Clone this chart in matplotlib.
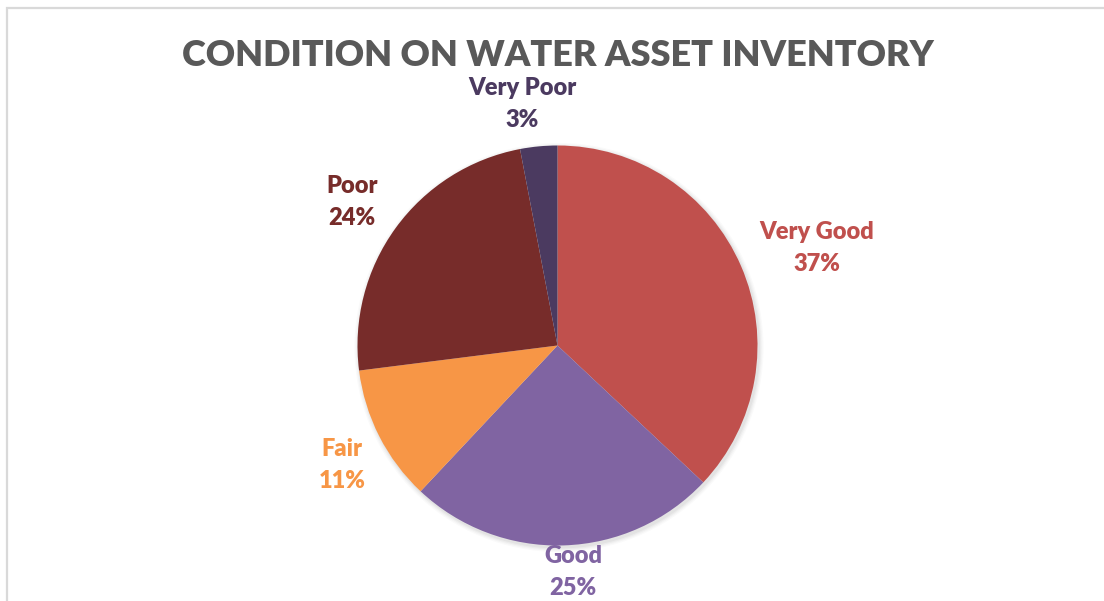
import matplotlib.pyplot as plt
from matplotlib.patches import Rectangle, Circle

# Condition breakdown of the water asset inventory (percent)
conditions = ['Very Good', 'Good', 'Fair', 'Poor', 'Very Poor']
shares = [37, 25, 11, 24, 3]
colors = ['#C0504D', '#8064A2', '#F79646', '#772C2A', '#4B3A60']

# label anchor points (figure pixels, origin top-left)
label_pos = [(817, 248), (573, 572), (342, 465), (352, 202), (522, 104)]

W, H = 1104, 601
fig = plt.figure(figsize=(W / 100, H / 100), dpi=100)
ax = fig.add_axes([0, 0, 1, 1])

cx, cy, r = 557.5, H - 345.5, 200

# soft drop shadow under the pie
for i, a in enumerate([0.035, 0.03, 0.025, 0.02]):
    ax.add_patch(Circle((cx + 1.5, cy - 2), r + 1 + i * 1.2, color='black',
                        alpha=a, lw=0, zorder=1))

ax.pie(shares, colors=colors, startangle=90, counterclock=False,
       center=(cx, cy), radius=r, frame=True,
       wedgeprops=dict(linewidth=0, zorder=2))
ax.set_xlim(0, W)
ax.set_ylim(0, H)
ax.set_aspect('equal')
ax.axis('off')

for name, val, col, (px, py) in zip(conditions, shares, colors, label_pos):
    ax.text(px, H - py, f'{name}\n{val}%', color=col, fontsize=17,
            fontweight='heavy', family='Lato', ha='center', va='center',
            linespacing=1.6, zorder=3)

ax.text(558, H - 56, 'CONDITION ON WATER ASSET INVENTORY', color='#595959',
        fontsize=26, fontweight='heavy', family='Lato', ha='center', va='center')

# chart frame
fig.patches.append(Rectangle((7 / W, -0.1), 1.2, 1 - 7.5 / H + 0.1,
                             transform=fig.transFigure, fill=False,
                             edgecolor='#D9D9D9', lw=1.6))

fig.savefig('out.png', dpi=100)
